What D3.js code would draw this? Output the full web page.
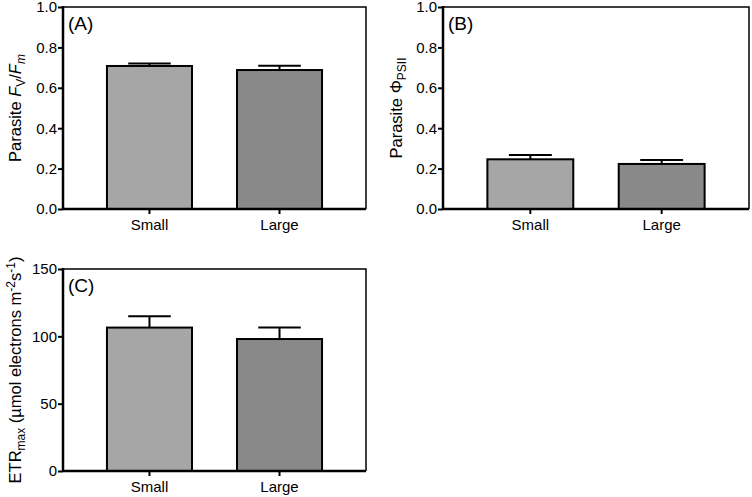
<!DOCTYPE html>
<html>
<head>
<meta charset="utf-8">
<script src="https://cdn.jsdelivr.net/npm/d3@7"></script>
<style>
  body { margin: 0; background: #fff; }
  svg { display: block; font-family: "Liberation Sans", Arial, sans-serif; }
</style>
</head>
<body>
<svg id="chart" width="752" height="497"></svg>
<script>
// ---- Data ----
const categories = ["Small", "Large"];
const barColors = ["#a6a6a6", "#898989"];

const fvfmMeans = [0.708, 0.688];
const fvfmSE = [0.012, 0.021];

const psiiMeans = [0.246, 0.223];
const psiiSE = [0.021, 0.020];

const etrMeans = [106.5, 98.0];
const etrSE = [8.5, 8.5];

const ticksA = [0, 0.2, 0.4, 0.6, 0.8, 1.0];
const ticksB = [0, 0.2, 0.4, 0.6, 0.8, 1.0];
const ticksC = [0, 50, 100, 150];

const svg = d3.select("#chart");

function drawPanel(cfg) {
  const g = svg.append("g");
  const x = d3.scaleBand().domain(categories).range([cfg.x0, cfg.x1])
    .paddingInner(0.346).paddingOuter(0.338);
  const y = d3.scaleLinear().domain(cfg.domain).range([cfg.y1, cfg.y0]);

  // frame (thin top/right)
  g.append("path")
    .attr("d", `M${cfg.x0},${cfg.y0} L${cfg.x1},${cfg.y0} L${cfg.x1},${cfg.y1}`)
    .attr("fill", "none").attr("stroke", "#000").attr("stroke-width", 1.5);

  // bars
  g.selectAll("rect.bar").data(categories).enter().append("rect")
    .attr("class", "bar")
    .attr("x", d => x(d))
    .attr("width", x.bandwidth())
    .attr("y", (d, i) => y(cfg.means[i]))
    .attr("height", (d, i) => y(0) - y(cfg.means[i]))
    .attr("fill", (d, i) => barColors[i])
    .attr("stroke", "#000").attr("stroke-width", 2);

  // error bars
  const eb = g.selectAll("g.eb").data(categories).enter().append("g").attr("class", "eb");
  eb.append("line")
    .attr("x1", d => x(d) + x.bandwidth() / 2)
    .attr("x2", d => x(d) + x.bandwidth() / 2)
    .attr("y1", (d, i) => y(cfg.means[i]))
    .attr("y2", (d, i) => y(cfg.means[i] + cfg.se[i]))
    .attr("stroke", "#000").attr("stroke-width", 2);
  eb.append("line")
    .attr("x1", d => x(d) + x.bandwidth() / 4)
    .attr("x2", d => x(d) + 3 * x.bandwidth() / 4)
    .attr("y1", (d, i) => y(cfg.means[i] + cfg.se[i]))
    .attr("y2", (d, i) => y(cfg.means[i] + cfg.se[i]))
    .attr("stroke", "#000").attr("stroke-width", 2);

  // y axis
  const yAxis = g.append("g").attr("transform", `translate(${cfg.x0},0)`)
    .call(d3.axisLeft(y).tickValues(cfg.ticks).tickFormat(cfg.fmt).tickSize(5).tickSizeOuter(0));
  // x axis
  const xAxis = g.append("g").attr("transform", `translate(0,${cfg.y1})`)
    .call(d3.axisBottom(x).tickSize(5).tickSizeOuter(0));
  [yAxis, xAxis].forEach(ax => {
    ax.select(".domain").attr("stroke-width", 2.5);
    ax.selectAll(".tick line").attr("stroke-width", 2);
    ax.selectAll(".tick text").attr("font-size", 15).attr("fill", "#000")
      .attr("font-family", "Liberation Sans, Arial, sans-serif");
  });
  yAxis.select(".domain").attr("d", `M0,${cfg.y0 - 1}V${cfg.y1}`);
  yAxis.selectAll(".tick text").attr("x", -6);
  xAxis.select(".domain").attr("d", `M${cfg.x0},0H${cfg.x1}`);
  xAxis.selectAll(".tick text").attr("y", 10);

  // panel label
  g.append("text").attr("x", cfg.x0 + 5).attr("y", cfg.y0 + 23)
    .attr("font-size", 19).text(cfg.label);

  // y title
  const t = g.append("text")
    .attr("transform", `translate(${cfg.titleX},${(cfg.y0 + cfg.y1) / 2}) rotate(-90)`)
    .attr("text-anchor", "middle").attr("font-size", 16.5);
  cfg.title(t);
}

drawPanel({
  x0: 63, x1: 366, y0: 7, y1: 209, domain: [0, 1],
  means: fvfmMeans, se: fvfmSE, ticks: ticksA, fmt: d3.format(".1f"),
  label: "(A)", titleX: 21,
  title: t => {
    t.append("tspan").text("Parasite ");
    t.append("tspan").attr("font-style", "italic").text("F");
    t.append("tspan").attr("font-size", 12).attr("dy", 4).text("V");
    t.append("tspan").attr("dy", -4).text("/");
    t.append("tspan").attr("font-style", "italic").text("F");
    t.append("tspan").attr("font-style", "italic").attr("font-size", 12).attr("dy", 4).text("m");
  }
});

drawPanel({
  x0: 443, x1: 749, y0: 7, y1: 209, domain: [0, 1],
  means: psiiMeans, se: psiiSE, ticks: ticksB, fmt: d3.format(".1f"),
  label: "(B)", titleX: 402,
  title: t => {
    t.append("tspan").text("Parasite \u03A6");
    t.append("tspan").attr("font-size", 12).attr("dy", 4).text("PSII");
  }
});

drawPanel({
  x0: 63, x1: 366, y0: 269, y1: 471, domain: [0, 150],
  means: etrMeans, se: etrSE, ticks: ticksC, fmt: d3.format("d"),
  label: "(C)", titleX: 21,
  title: t => {
    t.append("tspan").text("ETR");
    t.append("tspan").attr("font-size", 12).attr("dy", 4).text("max");
    t.append("tspan").attr("dy", -4).text(" (\u00B5mol electrons m");
    t.append("tspan").attr("font-size", 12).attr("dy", -6).text("-2");
    t.append("tspan").attr("dy", 6).text("s");
    t.append("tspan").attr("font-size", 12).attr("dy", -6).text("-1");
    t.append("tspan").attr("dy", 6).text(")");
  }
});
</script>
</body>
</html>
